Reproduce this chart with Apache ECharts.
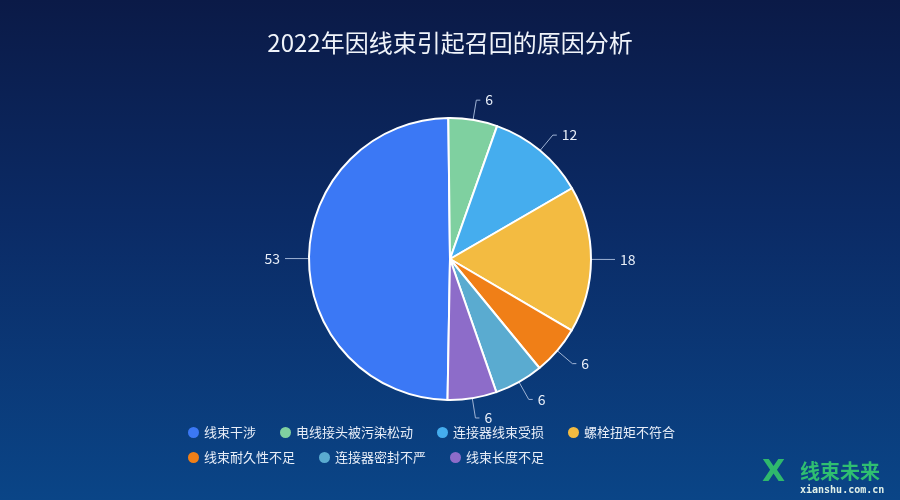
<!DOCTYPE html>
<html>
<head>
<meta charset="utf-8">
<script src="https://cdn.jsdelivr.net/npm/echarts@6/dist/echarts.min.js"></script>
<style>html,body{margin:0;padding:0;}#c{width:900px;height:500px;}</style>
</head>
<body>
<div id="c"></div>
<script>
const titleText = '2022年因线束引起召回的原因分析';
const categories = ['线束干涉', '电线接头被污染松动', '连接器线束受损', '螺栓扭矩不符合', '线束耐久性不足', '连接器密封不严', '线束长度不足'];
const values = [53, 6, 12, 18, 6, 6, 6];
const colors = ['#3B78F5', '#7FD0A0', '#45ADEE', '#F3BB41', '#F07F17', '#5AABD0', '#8D6CC9'];

const FONT = '"Noto Sans CJK SC", "Noto Sans", sans-serif';
const chart = echarts.init(document.getElementById('c'), null, {renderer: 'canvas'});

const legendBase = {
  orient: 'horizontal',
  left: 183,
  itemWidth: 11,
  itemHeight: 11,
  itemGap: 24,
  icon: 'circle',
  itemStyle: {borderWidth: 0},
  textStyle: {color: '#e8eef8', fontSize: 13, fontFamily: FONT}
};

chart.setOption({
  backgroundColor: new echarts.graphic.LinearGradient(0, 0, 0, 1, [
    {offset: 0, color: '#0b1a47'},
    {offset: 0.45, color: '#0b2b66'},
    {offset: 1, color: '#0a4587'}
  ]),
  color: colors,
  title: {
    text: titleText,
    left: 'center',
    top: 26,
    textStyle: {color: '#f0f4fa', fontSize: 24, fontWeight: 'normal', fontFamily: FONT}
  },
  legend: [
    Object.assign({}, legendBase, {top: 421, data: categories.slice(0, 4)}),
    Object.assign({}, legendBase, {top: 446, data: categories.slice(4)})
  ],
  graphic: [
    {type: 'text', left: 762, top: 458, style: {text: 'X', fill: '#2fb86c', font: 'bold 30px "DejaVu Sans"'}},
    {type: 'text', left: 800, top: 461, style: {text: '线束未来', fill: '#2fbf71', font: 'bold 20px "Noto Sans CJK SC"'}},
    {type: 'text', left: 800, top: 485, style: {text: 'xianshu.com.cn', fill: '#e0f0e8', font: 'bold 10px "DejaVu Sans Mono"'}}
  ],
  series: [{
    type: 'pie',
    center: [450, 259],
    radius: 141,
    startAngle: 269,
    clockwise: true,
    avoidLabelOverlap: true,
    data: categories.map((n, i) => ({name: n, value: values[i]})),
    itemStyle: {borderColor: '#ffffff', borderWidth: 2},
    label: {
      show: true,
      formatter: '{c}',
      color: '#e8eef8',
      fontSize: 14,
      fontFamily: FONT
    },
    labelLine: {
      show: true,
      length: 20,
      length2: 4,
      lineStyle: {color: '#9fb3d4', width: 1}
    },
    emphasis: {disabled: true}
  }]
});
</script>
</body>
</html>
